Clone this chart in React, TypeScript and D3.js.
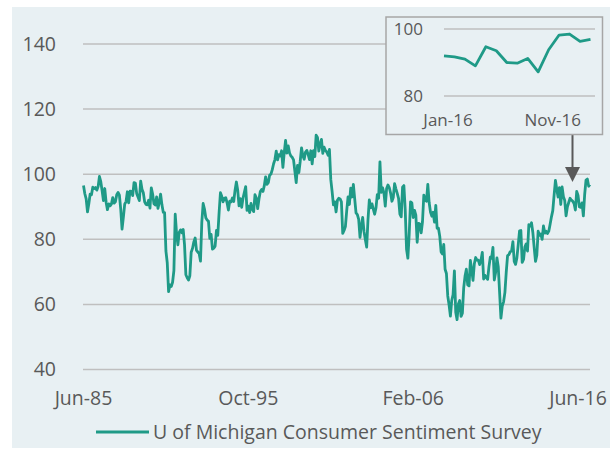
import React from "react";
import * as d3 from "d3";

// Monthly values, Jun-85 .. Mar-17
const startYear = 1985;
const startMonth = 5; // June (0-based)
const sentiment: number[] = [
  // 1985 Jun-Dec
  96.5, 94.0, 92.4, 88.4, 90.9, 93.9, 93.7,
  // 1986
  96.0, 95.6, 95.9, 95.1, 96.2, 99.3, 97.7, 94.9, 91.9, 95.6, 91.4, 89.1,
  // 1987
  90.9, 90.3, 90.8, 92.8, 91.1, 91.5, 93.7, 94.4, 93.6, 89.3, 83.1, 86.8,
  // 1988
  90.8, 91.6, 94.6, 91.2, 94.8, 94.7, 93.4, 97.4, 97.3, 94.1, 93.0, 91.9,
  // 1989
  97.9, 95.4, 94.3, 91.5, 90.7, 90.6, 92.0, 89.6, 95.8, 93.9, 90.9, 90.5,
  // 1990
  93.0, 89.5, 91.3, 93.9, 90.6, 88.3, 88.2, 76.4, 72.8, 63.9, 66.0, 65.5,
  // 1991
  66.8, 70.4, 87.7, 81.8, 78.3, 82.1, 82.9, 82.0, 83.0, 78.3, 69.1, 68.2,
  // 1992
  67.5, 68.8, 76.0, 77.2, 79.2, 80.4, 76.6, 76.1, 75.6, 73.3, 85.3, 91.0,
  // 1993
  89.3, 86.6, 85.9, 85.6, 80.3, 81.5, 77.0, 77.3, 77.9, 82.7, 81.2, 88.2,
  // 1994
  94.3, 93.2, 91.5, 92.6, 92.8, 91.2, 89.0, 91.7, 91.5, 92.7, 91.6, 95.1,
  // 1995
  97.6, 95.1, 90.3, 92.5, 89.8, 92.7, 94.4, 96.2, 88.9, 90.2, 88.2, 91.0,
  // 1996
  89.3, 88.5, 93.7, 92.7, 89.4, 92.4, 94.7, 95.3, 94.7, 96.5, 99.2, 96.9,
  // 1997
  97.4, 99.7, 100.0, 101.4, 103.2, 104.5, 107.1, 104.4, 106.0, 105.6, 107.2, 102.1,
  // 1998
  106.6, 110.4, 106.5, 108.7, 106.5, 105.6, 105.2, 104.4, 100.9, 97.4, 102.7, 100.5,
  // 1999
  103.9, 108.1, 105.7, 104.6, 106.8, 107.3, 106.0, 104.5, 107.2, 103.2, 107.2, 105.4,
  // 2000
  112.0, 111.3, 107.1, 109.2, 110.7, 106.4, 108.3, 107.3, 106.8, 105.8, 107.6, 98.4,
  // 2001
  94.7, 90.6, 91.5, 88.4, 92.0, 92.6, 92.4, 91.5, 81.8, 82.7, 83.9, 88.8,
  // 2002
  93.0, 90.7, 95.7, 93.0, 96.9, 92.4, 88.1, 87.6, 86.1, 80.6, 84.2, 86.7,
  // 2003
  82.4, 79.9, 77.6, 86.0, 92.1, 89.7, 90.9, 89.3, 87.7, 89.6, 93.7, 92.6,
  // 2004
  103.8, 94.4, 95.8, 94.2, 90.2, 95.6, 96.7, 95.9, 94.2, 91.7, 92.8, 97.1,
  // 2005
  95.5, 94.1, 92.6, 87.7, 86.9, 96.0, 96.5, 89.1, 76.9, 74.2, 81.6, 91.5,
  // 2006
  91.2, 86.7, 88.9, 87.4, 79.1, 84.9, 84.7, 82.0, 85.4, 93.6, 92.1, 91.7,
  // 2007
  96.9, 91.3, 88.4, 87.1, 88.3, 85.3, 90.4, 83.4, 83.4, 80.9, 76.1, 75.5,
  // 2008
  78.4, 70.8, 69.5, 62.6, 59.8, 56.4, 61.2, 63.0, 70.3, 57.6, 55.3, 60.1,
  // 2009
  61.2, 56.3, 57.3, 65.1, 68.7, 70.8, 66.0, 65.7, 73.5, 70.6, 67.4, 72.5,
  // 2010
  74.4, 73.6, 73.6, 72.2, 73.6, 76.0, 67.8, 68.9, 68.2, 67.7, 71.6, 74.5,
  // 2011
  74.2, 77.5, 67.5, 69.8, 74.3, 71.5, 63.7, 55.8, 59.5, 60.8, 63.7, 69.9,
  // 2012
  75.0, 75.3, 76.2, 76.4, 79.3, 73.2, 72.3, 74.3, 78.3, 82.6, 82.7, 72.9,
  // 2013
  73.8, 77.6, 78.6, 76.4, 84.5, 84.1, 85.1, 82.1, 77.5, 73.2, 75.1, 82.5,
  // 2014
  81.2, 81.6, 80.0, 84.1, 81.9, 82.5, 81.8, 82.5, 84.6, 86.9, 88.8, 93.6,
  // 2015
  98.1, 95.4, 93.0, 95.9, 90.7, 96.1, 93.1, 91.9, 87.2, 90.0, 91.3, 92.6,
  // 2016
  92.0, 91.7, 91.0, 89.0, 94.7, 93.5, 90.0, 89.8, 91.2, 87.2, 93.8, 98.2,
  // 2017 Jan-Mar
  98.5, 96.3, 96.9,
];

const yTicks = [40, 60, 80, 100, 120, 140];
const xTickIdx = [0, 124, 248, 372];
const insetStart = 367; // Jan-16
const insetTicks = [80, 100];
const insetXTickIdx = [0, 10];
const seriesName = "U of Michigan Consumer Sentiment Survey";

const monthNames = ["Jan", "Feb", "Mar", "Apr", "May", "Jun", "Jul", "Aug", "Sep", "Oct", "Nov", "Dec"];
const labelFor = (i: number) => {
  const m = startMonth + i;
  const y = startYear + Math.floor(m / 12);
  return `${monthNames[m % 12]}-${String(y % 100).padStart(2, "0")}`;
};

const FONT = "'Open Sans', sans-serif";
const TEXT = "#595959";
const GRID = "#bfbfbf";
const LINE = "#1f9a87";

export default function App() {
  const W = 610, H = 450;
  const x = d3.scaleLinear().domain([0, sentiment.length - 1]).range([83.5, 590]);
  const y = d3.scaleLinear().domain([40, 140]).range([369.5, 44]);
  const line = d3.line<number>().x((_, i) => x(i)).y((d) => y(d));

  const insetData = sentiment.slice(insetStart);
  const ix = d3.scaleLinear().domain([0, insetData.length - 1]).range([444, 590.5]);
  const iy = d3.scaleLinear().domain([80, 100]).range([96, 29]);
  const iline = d3.line<number>().x((_, i) => ix(i)).y((d) => iy(d));

  const arrowX = 572.5;

  return (
    <svg width={W} height={H} style={{ position: "absolute", left: 0, top: 0 }}>
      <rect x={12} y={7} width={598} height={441} fill="#e8f0f3" />
      {yTicks.map((t) => (
        <g key={t}>
          <line x1={83} x2={590} y1={y(t)} y2={y(t)} stroke={GRID} strokeWidth={1.5} />
          <text x={56} y={y(t)} dy="0.35em" textAnchor="end" fontFamily={FONT} fontSize={19.5} fill={TEXT}>
            {t}
          </text>
        </g>
      ))}
      {xTickIdx.map((i) => (
        <text key={i} x={x(i)} y={398} dy="0.35em" textAnchor="middle" fontFamily={FONT} fontSize={19.5} fill={TEXT}>
          {labelFor(i)}
        </text>
      ))}
      <path d={line(sentiment) || ""} fill="none" stroke={LINE} strokeWidth={2.8} strokeLinejoin="round" />

      {/* legend */}
      <line x1={96} x2={149} y1={432} y2={432} stroke={LINE} strokeWidth={3} />
      <text x={153} y={432} dy="0.35em" fontFamily={FONT} fontSize={19.5} fill={TEXT}>
        {seriesName}
      </text>

      {/* arrow */}
      <line x1={arrowX} x2={arrowX} y1={135} y2={168} stroke="#595959" strokeWidth={2} />
      <path d={`M${arrowX - 7.5},167 L${arrowX + 7.5},167 L${arrowX},182 Z`} fill="#595959" />

      {/* inset */}
      <rect x={386} y={17} width={216.5} height={117.5} fill="#e8f0f3" stroke="#a6a6a6" strokeWidth={1.5} />
      {insetTicks.map((t) => (
        <g key={t}>
          <line x1={444} x2={595} y1={iy(t)} y2={iy(t)} stroke={GRID} strokeWidth={1.5} />
          <text x={423} y={iy(t)} dy="0.35em" textAnchor="end" fontFamily={FONT} fontSize={17} fill={TEXT}>
            {t}
          </text>
        </g>
      ))}
      {insetXTickIdx.map((i) => (
        <text key={i} x={ix(i) + 4} y={120} dy="0.35em" textAnchor="middle" fontFamily={FONT} fontSize={17} fill={TEXT}>
          {labelFor(insetStart + i)}
        </text>
      ))}
      <path d={iline(insetData) || ""} fill="none" stroke={LINE} strokeWidth={2.8} strokeLinejoin="round" />
    </svg>
  );
}
